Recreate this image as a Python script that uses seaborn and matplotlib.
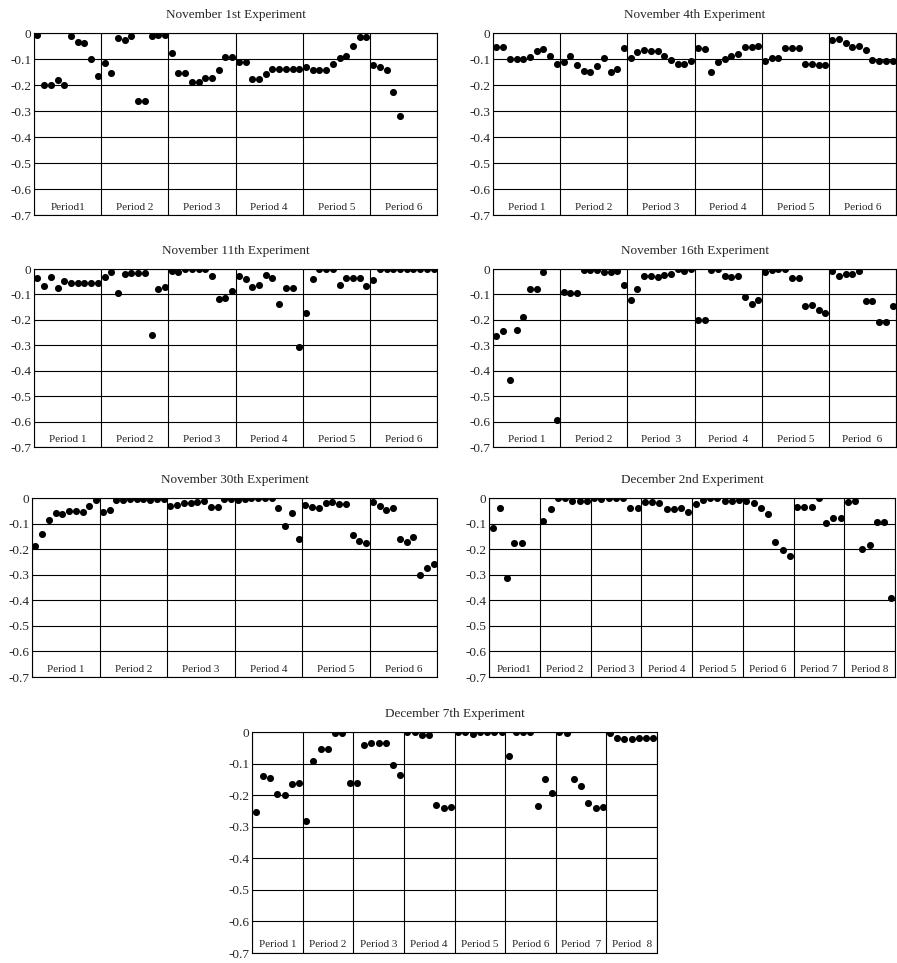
import numpy as np
import pandas as pd
import matplotlib
matplotlib.use('Agg')
import matplotlib.pyplot as plt
import seaborn as sns

nan = np.nan

# values per round (nan = no point shown)
nov1 = [-0.007, -0.2, -0.2, -0.182, -0.2, -0.01, -0.035, -0.04, -0.1, -0.165,
        -0.115, -0.155, -0.02, -0.027, -0.01, -0.26, -0.26, -0.01, -0.007, -0.007,
        -0.078, -0.153, -0.153, -0.19, -0.19, -0.173, -0.173, -0.143, -0.093, -0.093,
        -0.112, -0.112, -0.177, -0.177, -0.157, -0.138, -0.138, -0.138, -0.138, -0.138,
        -0.13, -0.142, -0.142, -0.142, -0.12, -0.098, -0.09, -0.049, -0.017, -0.017,
        -0.122, -0.13, -0.143, -0.225, -0.32, nan, nan, nan, nan, nan]

nov4 = [-0.055, -0.055, -0.099, -0.099, -0.1, -0.092, -0.07, -0.06, -0.09, -0.118,
        -0.112, -0.089, -0.123, -0.145, -0.149, -0.128, -0.097, -0.151, -0.137, -0.058,
        -0.098, -0.073, -0.067, -0.068, -0.068, -0.09, -0.103, -0.121, -0.121, -0.107,
        -0.056, -0.062, -0.151, -0.111, -0.099, -0.089, -0.08, -0.054, -0.054, -0.05,
        -0.109, -0.095, -0.095, -0.058, -0.058, -0.058, -0.118, -0.118, -0.123, -0.123,
        -0.028, -0.022, -0.037, -0.054, -0.049, -0.067, -0.103, -0.109, -0.109, -0.109]

nov11 = [-0.034, -0.067, -0.031, -0.076, -0.046, -0.055, -0.055, -0.055, -0.055, -0.055,
         -0.031, -0.01, -0.093, -0.021, -0.014, -0.014, -0.014, -0.259, -0.078, -0.072,
         -0.007, -0.01, 0.0, 0.0, 0.0, 0.0, -0.029, -0.119, -0.114, -0.086,
         -0.027, -0.038, -0.069, -0.063, -0.024, -0.034, -0.137, -0.076, -0.076, -0.307,
         -0.175, -0.038, 0.0, 0.0, 0.0, -0.064, -0.034, -0.034, -0.034, -0.065,
         -0.044, 0.0, 0.0, 0.0, 0.0, 0.0, 0.0, 0.0, 0.0, 0.0]

nov16 = [-0.262, -0.244, -0.435, -0.24, -0.189, -0.08, -0.08, -0.01, nan, -0.594,
         -0.09, -0.096, -0.096, -0.003, -0.003, -0.003, -0.01, -0.01, -0.007, -0.062,
         -0.123, -0.08, -0.026, -0.026, -0.031, -0.022, -0.021, -0.001, -0.007, -0.001,
         -0.199, -0.199, -0.004, -0.001, -0.029, -0.031, -0.029, -0.111, -0.137, -0.12,
         -0.012, -0.003, -0.001, -0.001, -0.035, -0.034, -0.147, -0.141, -0.163, -0.172,
         -0.007, -0.026, -0.02, -0.02, -0.007, -0.125, -0.125, -0.207, -0.207, -0.145]

nov30 = [-0.187, -0.139, -0.085, -0.06, -0.064, -0.051, -0.051, -0.056, -0.031, -0.009,
         -0.055, -0.045, -0.009, -0.009, -0.004, -0.004, -0.004, -0.007, -0.005, -0.004,
         -0.033, -0.027, -0.02, -0.02, -0.016, -0.013, -0.035, -0.035, -0.005, -0.003,
         -0.007, -0.003, 0.0, 0.0, -0.001, -0.001, -0.039, -0.109, -0.058, -0.16,
         -0.027, -0.037, -0.039, -0.02, -0.014, -0.024, -0.025, -0.146, -0.17, -0.176,
         -0.017, -0.031, -0.046, -0.041, -0.16, -0.173, -0.153, -0.3, -0.275, -0.26]

dec2 = [-0.117, -0.04, -0.314, -0.175, -0.175, nan, nan,
        -0.091, -0.042, 0.0, 0.0, -0.01, -0.01, -0.01,
        -0.001, -0.003, 0.0, 0.0, 0.0, -0.038, -0.038,
        -0.016, -0.014, -0.018, -0.043, -0.043, -0.039, -0.056,
        -0.023, -0.008, 0.0, 0.0, -0.012, -0.012, -0.009,
        -0.01, -0.02, -0.038, -0.061, -0.173, -0.202, -0.228,
        -0.037, -0.037, -0.037, 0.0, -0.098, -0.077, -0.077,
        -0.016, -0.013, -0.2, -0.183, -0.095, -0.095, -0.391]

dec7 = [-0.253, -0.139, -0.145, -0.195, -0.199, -0.164, -0.163,
        -0.283, -0.091, -0.054, -0.054, -0.002, -0.002, -0.16,
        -0.163, -0.042, -0.035, -0.035, -0.035, -0.104, -0.136,
        0.0, 0.0, -0.011, -0.011, -0.23, -0.241, -0.239,
        0.0, 0.0, -0.006, 0.0, 0.0, 0.0, 0.0,
        -0.077, 0.0, 0.0, 0.0, -0.233, -0.148, -0.193,
        0.0, -0.004, -0.15, -0.171, -0.225, -0.241, -0.237,
        -0.003, -0.02, -0.022, -0.021, -0.02, -0.02, -0.02]

labels6 = ['Period 1', 'Period 2', 'Period 3', 'Period 4', 'Period 5', 'Period 6']
labels_nov1 = ['Period1', 'Period 2', 'Period 3', 'Period 4', 'Period 5', 'Period 6']
labels_nov16 = ['Period 1', 'Period 2', 'Period  3', 'Period  4', 'Period 5', 'Period  6']
labels_dec2 = ['Period1', 'Period 2', 'Period 3', 'Period 4', 'Period 5', 'Period 6',
               'Period 7', 'Period 8']
labels_dec7 = ['Period 1', 'Period 2', 'Period 3', 'Period 4', 'Period 5', 'Period 6',
               'Period  7', 'Period  8']

y_ticks = [0, -0.1, -0.2, -0.3, -0.4, -0.5, -0.6, -0.7]
y_labels = ['0', '-0.1', '-0.2', '-0.3', '-0.4', '-0.5', '-0.6', '-0.7']

sns.set_style('white')
plt.rcParams['font.family'] = ['Liberation Serif', 'DejaVu Serif']
plt.rcParams['axes.unicode_minus'] = False

W, H = 897, 963
fig = plt.figure(figsize=(W / 100, H / 100), dpi=100)

# (title, values, rounds per period, labels, left, top, right, bottom) in pixels
panels = [
    ('November 1st Experiment', nov1, 10, labels_nov1, 34, 33, 437, 215),
    ('November 4th Experiment', nov4, 10, labels6, 493, 33, 896, 215),
    ('November 11th Experiment', nov11, 10, labels6, 34, 269, 437, 447),
    ('November 16th Experiment', nov16, 10, labels_nov16, 493, 269, 896, 447),
    ('November 30th Experiment', nov30, 10, labels6, 32, 498, 437, 677),
    ('December 2nd Experiment', dec2, 7, labels_dec2, 489, 498, 895, 677),
    ('December 7th Experiment', dec7, 7, labels_dec7, 252, 732, 657, 953),
]

for title, vals, per, labels, l, t, r, b in panels:
    ax = fig.add_axes([l / W, 1 - b / H, (r - l) / W, (b - t) / H])
    n = len(vals)
    df = pd.DataFrame({'round': np.arange(n) + 0.5, 'value': vals}).dropna()
    sns.scatterplot(data=df, x='round', y='value', ax=ax, color='black',
                    s=26, linewidth=0, zorder=3)
    ax.set_xlim(0, n)
    ax.set_ylim(-0.7, 0)
    ax.set_xticks(np.arange(0, n + 1, per))
    ax.set_xticklabels([])
    ax.set_yticks(y_ticks)
    ax.set_yticklabels(y_labels, fontsize=9.5)
    ax.tick_params(length=0, pad=2)
    ax.grid(True, color='black', linewidth=0.8)
    for sp in ax.spines.values():
        sp.set_color('black')
        sp.set_linewidth(0.8)
    ax.set_xlabel('')
    ax.set_ylabel('')
    for k, lab in enumerate(labels):
        ax.text(per * (k + 0.5), -0.672, lab, ha='center', va='center', fontsize=8)
    ax.set_title(title, fontsize=9.5, pad=11)

plt.savefig('out.png', dpi=100)
